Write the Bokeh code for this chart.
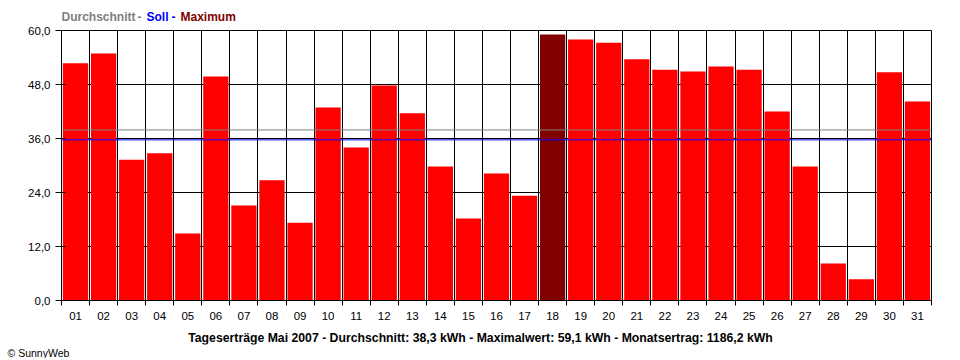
from bokeh.plotting import figure
from bokeh.layouts import column
from bokeh.models import ColumnDataSource, FixedTicker, Span, Range1d, Title
from bokeh.core.properties import value
from bokeh.embed import file_html
from bokeh.resources import INLINE

days = [f"{d:02d}" for d in range(1, 32)]
yields = [52.7, 54.9, 31.3, 32.7, 14.9, 49.8, 21.1, 26.7, 17.3, 42.9,
          34.0, 47.8, 41.6, 29.8, 18.2, 28.2, 23.3, 59.1, 58.0, 57.3,
          53.6, 51.3, 50.9, 52.0, 51.3, 42.0, 29.8, 8.2, 4.7, 50.7, 44.2]
average_line = 37.9
soll_line = 35.7
y_ticks = [0, 12, 24, 36, 48, 60]
y_tick_labels = ["0,0", "12,0", "24,0", "36,0", "48,0", "60,0"]
header_parts = ["Durchschnitt", "-", "Soll", "-", "Maximum"]
header_colors = ["#808080", "#808080", "#0000FF", "#0000FF", "#800000"]
footer = "Tageserträge Mai 2007 - Durchschnitt: 38,3 kWh - Maximalwert: 59,1 kWh - Monatsertrag: 1186,2 kWh"
credit = "© SunnyWeb"

FONT = "Liberation Sans"
W = 952
FL, FR = 61, 931  # frame edges in page pixels (shared by all three stacked figures)

# ---------- header ----------
HH = 24
hdr = figure(width=W, height=HH, output_backend="svg", toolbar_location=None,
             x_range=Range1d(FL, FR), y_range=Range1d(0, HH),
             min_border=0, min_border_left=0, min_border_right=0,
             min_border_top=0, min_border_bottom=0)
hdr.axis.visible = False
hdr.grid.visible = False
hdr.outline_line_color = None
hdr_x = [61, 137, 146, 171, 180]
hdr.text(x=hdr_x, y=[HH - 16] * len(hdr_x), text=header_parts, text_color=header_colors,
         text_font=value(FONT), text_font_size="12px", text_font_style="bold",
         text_baseline="middle", text_align="left")

# ---------- main chart ----------
xs = list(range(1, len(days) + 1))
imax = yields.index(max(yields))
colors = ["#800000" if i == imax else "#FF0000" for i in range(len(yields))]
src = ColumnDataSource(dict(x=xs, top=yields, color=colors))

p = figure(width=W, height=299, frame_width=870, frame_height=270,
           output_backend="svg", toolbar_location=None,
           x_range=Range1d(0.5, len(days) + 0.5), y_range=Range1d(0, 60),
           min_border_left=61, min_border_top=6, min_border_right=21, min_border_bottom=23)
p.background_fill_color = "white"
p.border_fill_color = "white"
p.outline_line_color = "black"

bounds = [x - 0.5 for x in xs] + [xs[-1] + 0.5]
p.xgrid.ticker = FixedTicker(ticks=bounds)
p.xgrid.grid_line_color = "black"
p.ygrid.ticker = FixedTicker(ticks=y_ticks)
p.ygrid.grid_line_color = "black"

p.vbar(x="x", top="top", bottom=0, width=0.9, fill_color="color", line_color=None, source=src)

p.add_layout(Span(location=average_line, dimension="width", line_color="#808080", line_width=1))
p.add_layout(Span(location=soll_line, dimension="width", line_color="#0000FF", line_width=1))

xa = p.xaxis[0]
xa.ticker = FixedTicker(ticks=xs, minor_ticks=bounds)
xa.major_label_overrides = {x: d for x, d in zip(xs, days)}
xa.major_tick_line_color = None
xa.major_tick_out = 0
xa.major_tick_in = 0
xa.minor_tick_out = 5
xa.minor_tick_in = 0
xa.minor_tick_line_color = "black"
xa.axis_line_color = "black"
xa.major_label_text_font = FONT
xa.major_label_text_font_size = "11.5px"
xa.major_label_text_color = "black"
xa.major_label_standoff = 6

ya = p.yaxis[0]
ya.ticker = FixedTicker(ticks=y_ticks, minor_ticks=[])
ya.major_label_overrides = {t: l for t, l in zip(y_ticks, y_tick_labels)}
ya.major_tick_out = 6
ya.major_tick_in = 4
ya.major_tick_line_color = "black"
ya.axis_line_color = "black"
ya.major_label_text_font = FONT
ya.major_label_text_font_size = "11.5px"
ya.major_label_text_color = "black"
ya.major_label_standoff = 5

# ---------- footer ----------
FH = 21
ftr = figure(width=W, frame_height=FH, output_backend="svg", toolbar_location=None,
             x_range=Range1d(FL, FR), y_range=Range1d(0, FH),
             min_border=0, min_border_left=0, min_border_right=0,
             min_border_top=0, min_border_bottom=0)
ftr.axis.visible = False
ftr.grid.visible = False
ftr.outline_line_color = None
ftr.text(x=[480], y=[FH - 14], text=[footer], text_color="black",
         text_font=value(FONT), text_font_size="12.25px", text_font_style="bold",
         text_baseline="middle", text_align="center")
ftr.add_layout(Title(text=credit, align="left", offset=7 - FL, standoff=0,
                     text_font=FONT, text_font_size="10.5px", text_font_style="normal",
                     text_color="black"), "below")

layout = column(hdr, p, ftr, spacing=0)
open("out.html", "w").write(file_html(layout, INLINE))
